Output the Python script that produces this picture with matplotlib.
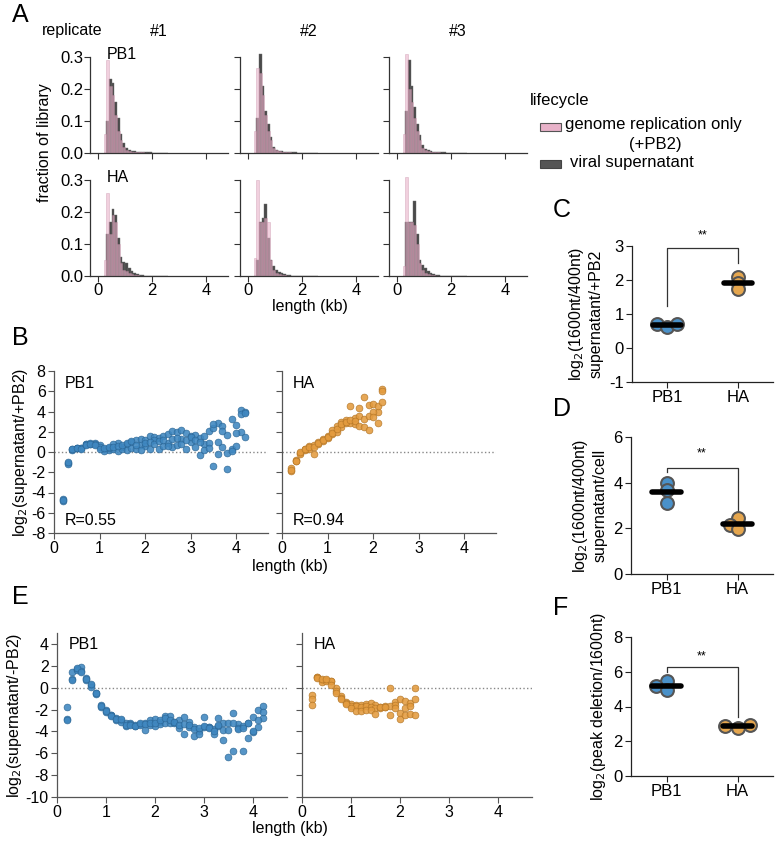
import numpy as np
import matplotlib.pyplot as plt
from matplotlib.patches import Rectangle

plt.rcParams['font.family'] = ['Liberation Sans', 'DejaVu Sans']
plt.rcParams['font.size'] = 11
plt.rcParams['axes.unicode_minus'] = False

W, H = 777, 841

# ---------------- data ----------------
# A: length histograms, bin left edges (kb), fraction of library
hist_bins = [0.2, 0.3, 0.4, 0.5, 0.6, 0.7, 0.8, 0.9, 1.0, 1.1, 1.2, 1.3,
             1.4, 1.5, 1.6, 1.7, 1.8, 1.9, 2.0, 2.1, 2.2, 2.3, 2.4, 2.5]

pb1_cell_rep1 = [0.06, 0.29, 0.21, 0.18, 0.12, 0.07, 0.04, 0.02, 0.01, 0.006, 0.004, 0.003,
                 0.002, 0.002, 0.002, 0.001, 0.001, 0.001, 0.001, 0.001, 0.001, 0.001, 0.001, 0.001]
pb1_cell_rep2 = [0.07, 0.265, 0.25, 0.18, 0.12, 0.07, 0.04, 0.015, 0.008, 0.005, 0.003, 0.002,
                 0.002, 0.002, 0.001, 0.001, 0.001, 0.001, 0.001, 0.001, 0.001, 0.001, 0.001, 0.001]
pb1_cell_rep3 = [0.06, 0.31, 0.20, 0.16, 0.11, 0.07, 0.04, 0.015, 0.008, 0.005, 0.003, 0.002,
                 0.002, 0.002, 0.001, 0.001, 0.001, 0.001, 0.001, 0.001, 0.001, 0.001, 0.001, 0.001]
pb1_sup_rep1 = [0.0, 0.10, 0.23, 0.22, 0.16, 0.11, 0.06, 0.03, 0.015, 0.01, 0.007, 0.005,
                0.004, 0.003, 0.003, 0.002, 0.002, 0.002, 0.001, 0.001, 0.001, 0.001, 0.001, 0.001]
pb1_sup_rep2 = [0.0, 0.11, 0.31, 0.21, 0.13, 0.09, 0.05, 0.02, 0.01, 0.007, 0.005, 0.004,
                0.003, 0.002, 0.002, 0.002, 0.001, 0.001, 0.001, 0.001, 0.001, 0.001, 0.0, 0.0]
pb1_sup_rep3 = [0.0, 0.13, 0.29, 0.21, 0.145, 0.09, 0.055, 0.025, 0.012, 0.008, 0.006, 0.004,
                0.003, 0.002, 0.002, 0.002, 0.001, 0.001, 0.001, 0.001, 0.001, 0.0, 0.0, 0.0]

ha_cell_rep1 = [0.05, 0.26, 0.13, 0.19, 0.17, 0.10, 0.04, 0.02, 0.015, 0.01, 0.005, 0.003,
                0.002, 0.001, 0.001, 0.0, 0.0, 0.0, 0.0, 0.0, 0.0, 0.0, 0.0, 0.0]
ha_cell_rep2 = [0.055, 0.30, 0.17, 0.17, 0.18, 0.17, 0.05, 0.02, 0.01, 0.006, 0.004, 0.002,
                0.001, 0.001, 0.0, 0.0, 0.0, 0.0, 0.0, 0.0, 0.0, 0.0, 0.0, 0.0]
ha_cell_rep3 = [0.03, 0.31, 0.17, 0.17, 0.16, 0.10, 0.04, 0.02, 0.01, 0.006, 0.004, 0.002,
                0.001, 0.001, 0.0, 0.0, 0.0, 0.0, 0.0, 0.0, 0.0, 0.0, 0.0, 0.0]
ha_sup_rep1 = [0.0, 0.13, 0.17, 0.21, 0.19, 0.12, 0.06, 0.045, 0.04, 0.025, 0.015, 0.01,
               0.005, 0.003, 0.002, 0.001, 0.001, 0.0, 0.0, 0.0, 0.0, 0.0, 0.0, 0.0]
ha_sup_rep2 = [0.0, 0.05, 0.17, 0.18, 0.225, 0.12, 0.05, 0.03, 0.02, 0.012, 0.008, 0.005,
               0.003, 0.002, 0.001, 0.001, 0.0, 0.0, 0.0, 0.0, 0.0, 0.0, 0.0, 0.0]
ha_sup_rep3 = [0.0, 0.17, 0.17, 0.17, 0.235, 0.13, 0.05, 0.035, 0.025, 0.015, 0.01, 0.006,
               0.004, 0.002, 0.001, 0.001, 0.0, 0.0, 0.0, 0.0, 0.0, 0.0, 0.0, 0.0]

replicates = ['#1', '#2', '#3']

# B: log2(supernatant/+PB2) vs length
pb1_len = [0.2, 0.3, 0.4, 0.5, 0.6, 0.7, 0.8, 0.9, 1.0, 1.1, 1.2, 1.3, 1.4, 1.5,
           1.6, 1.7, 1.8, 1.9, 2.0, 2.1, 2.2, 2.3, 2.4, 2.5, 2.6, 2.7, 2.8, 2.9,
           3.0, 3.1, 3.2, 3.3, 3.4, 3.5, 3.6, 3.7, 3.8, 3.9, 4.0, 4.1, 4.2]
b_pb1_r1 = [-4.6, -1.1, 0.2, 0.4, 0.4, 0.75, 0.8, 0.9, 0.7, 0.3, 0.2, 0.3, 0.9, 0.5,
            0.8, 1.0, 1.2, 1.3, 1.2, 1.6, 1.5, 1.4, 1.6, 1.8, 2.1, 2.0, 2.2, 1.9,
            1.6, 1.7, 1.4, 1.6, 2.1, 2.4, 2.9, 2.6, 1.7, 3.3, 2.7, 4.1, 4.0]
b_pb1_r2 = [-4.8, -1.2, 0.3, 0.35, 0.35, 0.8, 0.85, 0.8, 0.5, 0.1, 0.4, 0.8, 0.1, 0.3,
            0.2, 0.4, 0.3, 0.7, 0.6, 0.3, 1.2, 0.3, 0.6, 0.9, 0.5, 0.7, 1.3, 0.3,
            1.0, 0.5, -0.3, 0.8, 0.9, -1.4, -0.2, 0.5, -0.1, 0.3, 0.6, 2.0, 1.5]
b_pb1_r3 = [-4.7, -1.0, 0.25, 0.4, 0.3, 0.7, 0.75, 0.7, 0.3, 0.4, 0.5, 0.5, 0.6, 0.7,
            0.9, 1.1, 0.7, 0.2, 0.9, 1.0, 0.8, 1.1, 1.2, 0.6, 1.3, 1.4, 0.8, 1.2,
            1.5, 1.2, 1.0, 0.2, 0.4, 2.8, 1.0, 2.1, -1.7, 0.1, 1.9, 3.8, 3.9]

ha_len = [0.2, 0.3, 0.4, 0.5, 0.6, 0.7, 0.8, 0.9, 1.0, 1.1, 1.2, 1.3, 1.4, 1.5,
          1.6, 1.7, 1.8, 1.9, 2.0, 2.1, 2.2]
b_ha_r1 = [-1.6, -0.8, -0.1, 0.3, 0.6, 0.7, 1.0, 1.3, 1.6, 2.2, 2.6, 3.0, 3.2, 4.5,
           3.4, 4.3, 5.4, 4.6, 4.7, 4.0, 6.2]
b_ha_r2 = [-1.9, -0.9, -0.15, 0.2, 0.3, -0.2, 0.8, 1.1, 1.4, 1.8, 2.0, 2.5, 2.9, 2.9,
           2.8, 3.6, 3.3, 3.6, 4.0, 4.5, 6.0]
b_ha_r3 = [-1.8, -0.85, 0.0, 0.25, 0.5, 0.5, 0.9, 1.2, 1.5, 1.9, 2.3, 2.8, 3.0, 3.2,
           3.1, 2.6, 2.5, 2.2, 3.5, 2.9, 4.9]
b_r_values = ['R=0.55', 'R=0.94']

# E: log2(supernatant/-PB2) vs length
e_pb1_r1 = [-1.8, 1.4, 1.7, 1.9, 0.9, 0.2, -0.5, -1.6, -2.0, -2.5, -2.8, -3.0, -3.2, -3.2,
            -3.5, -3.3, -3.2, -3.0, -2.9, -3.1, -2.6, -2.6, -3.1, -3.0, -2.7, -3.1, -3.6, -4.0,
            -2.7, -3.6, -3.8, -2.8, -3.2, -3.2, -2.3, -3.3, -3.5, -3.2, -2.7, -2.0, -1.7]
e_pb1_r2 = [-2.9, 0.8, 1.6, 1.5, 0.7, 0.1, -0.6, -1.8, -2.2, -2.5, -3.0, -3.1, -3.5, -3.3,
            -3.4, -3.4, -3.9, -3.4, -3.5, -3.3, -3.2, -3.2, -3.2, -3.7, -4.2, -3.6, -4.4, -4.2,
            -3.6, -3.6, -4.2, -3.5, -4.8, -6.3, -5.8, -3.7, -5.8, -4.6, -4.1, -3.6, -2.8]
e_pb1_r3 = [-3.0, 0.7, 1.8, 1.4, 0.8, 0.3, -0.5, -1.7, -2.1, -2.6, -2.9, -2.9, -3.4, -3.4,
            -3.5, -3.2, -3.3, -3.2, -3.2, -3.0, -2.8, -3.0, -3.1, -3.4, -3.3, -3.4, -3.8, -3.7,
            -3.5, -3.7, -4.0, -3.4, -3.9, -3.9, -3.2, -3.8, -3.7, -3.2, -4.0, -3.0, -2.2]

e_ha_len = [0.2, 0.3, 0.4, 0.5, 0.6, 0.7, 0.8, 0.9, 1.0, 1.1, 1.2, 1.3, 1.4, 1.5,
            1.6, 1.7, 1.8, 1.9, 2.0, 2.1, 2.2, 2.3]
e_ha_r1 = [-0.7, 1.0, 0.7, 0.7, 0.6, 0.0, -0.8, -1.3, -1.5, -1.6, -1.6, -1.5, -1.4, -1.6,
           -1.8, -1.8, 0.0, -1.3, -1.0, -1.2, -1.4, 0.0]
e_ha_r2 = [-1.0, 1.0, 0.5, 0.6, 0.6, -0.3, -0.9, -1.4, -1.7, -1.7, -1.8, -1.7, -1.8, -1.9,
           -1.9, -1.7, -1.7, -1.6, -2.3, -1.9, -1.7, -1.0]
e_ha_r3 = [-1.6, 0.9, 0.8, 0.75, 0.2, -0.5, -1.0, -1.5, -1.9, -2.1, -2.1, -2.0, -2.0, -2.4,
           -1.8, -1.75, -2.5, -1.9, -2.9, -2.5, -2.4, -2.5]

# C, D, F: per-replicate summary values
segments = ['PB1', 'HA']
c_pb1 = [0.72, 0.63, 0.72]
c_ha = [2.1, 1.9, 1.73]
d_pb1 = [4.0, 3.7, 3.1]
d_ha = [2.45, 2.15, 1.95]
f_pb1 = [5.45, 5.2, 4.97]
f_ha = [2.85, 2.78, 2.92]

# ---------------- style ----------------
BLUE = '#3f87c0'
BLUE_EDGE = '#2b6594'
ORANGE = '#e39b3f'
ORANGE_EDGE = '#b27526'
PINK = '#e8b2c9'
DARK = '#4a4a4a'
SPINE = '#333333'


def axes_px(fig, x0, y0, x1, y1):
    return fig.add_axes([x0 / W, 1 - y1 / H, (x1 - x0) / W, (y1 - y0) / H])


def style(ax, color=SPINE, labelsize=11.5, pad=2):
    for s in ['top', 'right']:
        ax.spines[s].set_visible(False)
    for s in ['left', 'bottom']:
        ax.spines[s].set_color(color)
        ax.spines[s].set_linewidth(0.9)
    ax.tick_params(direction='out', length=4, width=0.8, color=color,
                   labelsize=labelsize, pad=pad)


def ftext(x, y, s, **kw):
    fig.text(x / W, 1 - y / H, s, **kw)


fig = plt.figure(figsize=(W / 100, H / 100), dpi=100)

# ---------------- A ----------------
hist_cell = {'PB1': [pb1_cell_rep1, pb1_cell_rep2, pb1_cell_rep3],
             'HA': [ha_cell_rep1, ha_cell_rep2, ha_cell_rep3]}
hist_sup = {'PB1': [pb1_sup_rep1, pb1_sup_rep2, pb1_sup_rep3],
            'HA': [ha_sup_rep1, ha_sup_rep2, ha_sup_rep3]}
col_px = [(90, 228), (240, 378), (389, 527)]
row_px = [(57, 153), (180, 276)]
for r, seg in enumerate(segments):
    for c in range(3):
        ax = axes_px(fig, col_px[c][0], row_px[r][0], col_px[c][1], row_px[r][1])
        style(ax, labelsize=12, pad=1)
        ax.bar(hist_bins, hist_sup[seg][c], width=0.1, align='edge', color=DARK,
               edgecolor='#6a6a6a', linewidth=0.3, clip_on=False)
        ax.bar(hist_bins, hist_cell[seg][c], width=0.1, align='edge', color=PINK,
               alpha=0.6, edgecolor='#c48aa4', linewidth=0.4, clip_on=False)
        ax.set_xlim(-0.3, 4.8)
        ax.set_ylim(0, 0.3)
        ax.set_xticks([0, 2, 4])
        ax.set_yticks([0, 0.1, 0.2, 0.3])
        ax.set_yticklabels(['0.0', '0.1', '0.2', '0.3'])
        if c > 0:
            ax.set_yticklabels([])
        if r == 0:
            ax.set_xticklabels([])
            ax.set_title(replicates[c], fontsize=11.5, pad=15)
        if c == 0:
            ax.text(0.12, 1.03, seg, transform=ax.transAxes, fontsize=11.5, va='center')

ftext(12, 15, 'A', fontsize=18, va='center', ha='left')
ftext(72, 30, 'replicate', fontsize=11.5, va='center', ha='center')
ftext(45, 143, 'fraction of library', fontsize=11.5, rotation=90, va='center', ha='center')
ftext(310, 307, 'length (kb)', fontsize=11.5, va='center', ha='center')

# legend
ftext(530, 100, 'lifecycle', fontsize=12, va='center', ha='left')
fig.add_artist(Rectangle((540 / W, 1 - 131 / H), 21 / W, 8 / H, transform=fig.transFigure,
                         facecolor=PINK, edgecolor='#555555', linewidth=0.8))
ftext(565, 125, 'genome replication only', fontsize=12, va='center', ha='left')
ftext(655, 145, '(+PB2)', fontsize=12, va='center', ha='center')
fig.add_artist(Rectangle((540 / W, 1 - 168 / H), 21 / W, 8 / H, transform=fig.transFigure,
                         facecolor='#555555', edgecolor='#444444', linewidth=0.8))
ftext(570, 163, 'viral supernatant', fontsize=12, va='center', ha='left')


# ---------------- B and E ----------------
def scatter_panel(ax, lens, reps, face, edge):
    for vals in reps:
        ax.scatter(lens, vals, s=24, color=face, edgecolors=edge, linewidths=0.5,
                   alpha=0.88, zorder=3, clip_on=False)
    ax.axhline(0, color='#888888', linestyle=':', linewidth=1, zorder=1)
    ax.set_xlim(0, 4.7)
    ax.set_xticks([0, 1, 2, 3, 4])


axB1 = axes_px(fig, 54, 371, 268, 533)
axB2 = axes_px(fig, 282, 371, 496, 533)
scatter_panel(axB1, pb1_len, [b_pb1_r1, b_pb1_r2, b_pb1_r3], BLUE, BLUE_EDGE)
scatter_panel(axB2, ha_len, [b_ha_r1, b_ha_r2, b_ha_r3], ORANGE, ORANGE_EDGE)
for i, ax in enumerate([axB1, axB2]):
    style(ax, '#555555')
    ax.set_ylim(-8, 8)
    ax.set_yticks([-8, -6, -4, -2, 0, 2, 4, 6, 8])
    ax.text(0.05, 0.92, segments[i], transform=ax.transAxes, fontsize=11.5, va='center')
    ax.text(0.05, 0.08, b_r_values[i], transform=ax.transAxes, fontsize=11.5, va='center')
axB2.set_yticklabels([])
axB1.set_ylabel('log$_2$(supernatant/+PB2)', fontsize=11.5, labelpad=1)
ftext(12, 338, 'B', fontsize=18, va='center', ha='left')
ftext(290, 566, 'length (kb)', fontsize=11.5, va='center', ha='center')

axE1 = axes_px(fig, 57, 633, 287, 797)
axE2 = axes_px(fig, 302, 633, 532, 797)
scatter_panel(axE1, pb1_len, [e_pb1_r1, e_pb1_r2, e_pb1_r3], BLUE, BLUE_EDGE)
scatter_panel(axE2, e_ha_len, [e_ha_r1, e_ha_r2, e_ha_r3], ORANGE, ORANGE_EDGE)
for i, ax in enumerate([axE1, axE2]):
    style(ax, '#555555')
    ax.set_ylim(-10, 5)
    ax.set_yticks([-10, -8, -6, -4, -2, 0, 2, 4])
    ax.text(0.05, 0.93, segments[i], transform=ax.transAxes, fontsize=11.5, va='center')
axE2.set_yticklabels([])
axE1.set_ylabel('log$_2$(supernatant/-PB2)', fontsize=11.5, labelpad=1)
ftext(12, 597, 'E', fontsize=18, va='center', ha='left')
ftext(290, 829, 'length (kb)', fontsize=11.5, va='center', ha='center')


# ---------------- C, D, F ----------------
def summary_panel(ax, pb1_vals, ha_vals, offsets, ylim, yticks, bracket, star_y):
    for pos, vals, face in [(0, pb1_vals, '#4a91c9'), (1, ha_vals, '#e5a64e')]:
        xs = [pos + o for o in offsets[pos]]
        ax.scatter(xs, vals, s=85, color=face, edgecolors='#555555', linewidths=1.5,
                   zorder=3, clip_on=False)
        m = np.mean(vals)
        ax.plot([pos - 0.2, pos + 0.2], [m, m], color='black', linewidth=4,
                solid_capstyle='round', zorder=4)
    y0, ytop, y1 = bracket
    ax.plot([0, 0, 1, 1], [y0, ytop, ytop, y1], color='#333333', linewidth=0.9,
            clip_on=False)
    ax.text(0.5, star_y, '**', ha='center', va='center', fontsize=9, clip_on=False)
    ax.set_xlim(-0.5, 1.5)
    ax.set_ylim(*ylim)
    ax.set_yticks(yticks)
    ax.set_xticks([0, 1])
    ax.set_xticklabels(segments)
    style(ax, '#222222', labelsize=12)


axC = axes_px(fig, 632, 246, 773, 382)
summary_panel(axC, c_pb1, c_ha, [[-0.14, 0.0, 0.14], [0.0, 0.0, 0.0]],
              (-1, 3), [-1, 0, 1, 2, 3], (1.24, 2.94, 2.5), 3.3)
axC.set_ylabel('log$_2$(1600nt/400nt)\nsupernatant/+PB2', fontsize=11.5, labelpad=4)
ftext(553, 210, 'C', fontsize=18, va='center', ha='left')

axD = axes_px(fig, 631, 437, 773, 574)
summary_panel(axD, d_pb1, d_ha, [[0.0, 0.0, 0.0], [0.0, -0.1, 0.0]],
              (0, 6), [0, 2, 4, 6], (4.47, 4.65, 2.5), 5.3)
axD.set_ylabel('log$_2$(1600nt/400nt)\nsupernatant/cell', fontsize=11.5, labelpad=4)
ftext(553, 409, 'D', fontsize=18, va='center', ha='left')

axF = axes_px(fig, 631, 637, 773, 776)
summary_panel(axF, f_pb1, f_ha, [[0.0, -0.15, 0.0], [-0.17, 0.0, 0.17]],
              (0, 8), [0, 2, 4, 6, 8], (6.0, 6.3, 3.4), 6.9)
axF.set_ylabel('log$_2$(peak deletion/1600nt)', fontsize=11.5, labelpad=4)
ftext(553, 608, 'F', fontsize=18, va='center', ha='left')

fig.savefig('out.png', dpi=100)
